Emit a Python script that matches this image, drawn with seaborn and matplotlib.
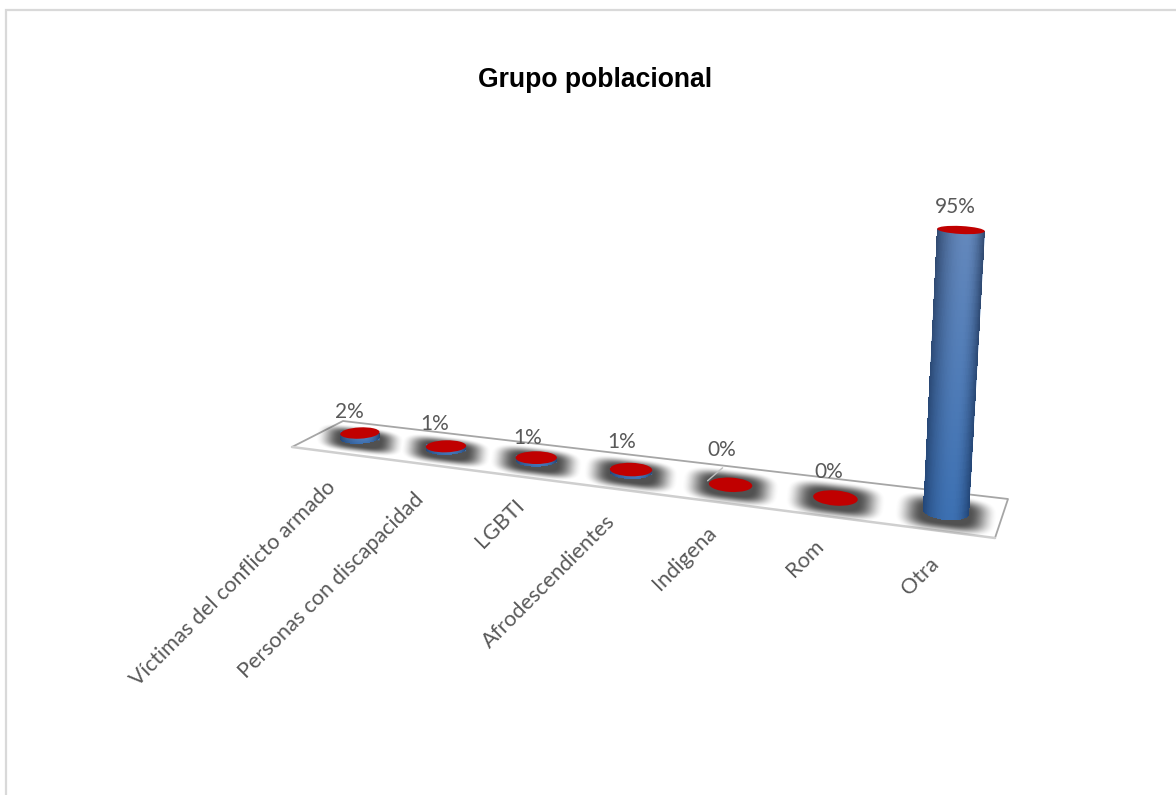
import numpy as np
import matplotlib
matplotlib.use("Agg")
import matplotlib.pyplot as plt
from matplotlib.patches import Ellipse, Polygon
from matplotlib.transforms import Transform
import pandas as pd
import seaborn as sns

categories = ["Víctimas del conflicto armado", "Personas con discapacidad", "LGBTI",
              "Afrodescendientes", "Indigena", "Rom", "Otra"]
values = [2, 1, 1, 1, 0, 0, 95]
value_labels = ["2%", "1%", "1%", "1%", "0%", "0%", "95%"]
title = "Grupo poblacional"

# pixel offsets of value labels and category labels from their bars
label_offsets = [(-10, -21), (-11, -22), (-9, -20), (-9, -28), (-9, -35), (-7, -26), (-6, -23)]
tick_offsets = [(-28, 46), (-25, 47), (-15, 42), (-19, 46), (-17, 45), (-15, 45), (-10, 49)]

BODY_TOP_MID, BODY_TOP_EDGE = np.array([100, 136, 188]), np.array([50, 74, 112])
BODY_LOW_MID, BODY_LOW_EDGE = np.array([60, 112, 178]), np.array([34, 70, 120])
CAP = "#C00000"
TEXT = "#595959"


class Perspective(Transform):
    """Projective map from (category index, percent) to canvas pixels."""
    input_dims = output_dims = 2
    has_inverse = False

    def transform_non_affine(self, pts):
        pts = np.asarray(pts, float)
        i, v = pts[:, 0], pts[:, 1]
        w = -0.02328 * i - 0.00035 * v + 1
        return np.column_stack([(75.64 * i - 0.2004 * v + 360) / w,
                                (0.41 * i - 2.634 * v + 438) / w])


proj = Perspective()


def project(i, v):
    return proj.transform_non_affine(np.array([[i, v]], float))[0]


def half_width(i):
    return 0.232 - 0.0052 * i


def disc(i, v):
    """Centre, half axes and tilt of a cylinder's circular section."""
    centre = project(i, v)
    a = np.linalg.norm(project(i + half_width(i), v) - project(i - half_width(i), v)) / 2
    b = a * (0.29 + 0.01 * i) * (1 - 0.0055 * v)
    angle = (-3 + 1.5 * i) * (1 - v / 190)
    return centre, a, b, angle


sns.set_theme(style="white")
fig = plt.figure(figsize=(11.76, 7.95), dpi=100)
ax = fig.add_axes([0, 0, 1, 1])

frame = pd.DataFrame({"posicion": np.arange(len(categories)), "pct": values})
sns.barplot(data=frame, x="posicion", y="pct", color="#3F71B0", ax=ax, saturation=1,
            width=0.4, native_scale=True, linewidth=0)
bars = list(ax.patches)

# the axes double as a pixel canvas for the projected scene
ax.set_xlim(0, 1176)
ax.set_ylim(795, 0)
ax.set_axis_off()
to_canvas = proj + ax.transData

# outer chart frame
ax.plot([5.5, 5.5, 1176], [795, 10, 10], color="#D9D9D9", lw=1.6, zorder=1, solid_joinstyle="miter")

# floor plate
corners = np.array([[343, 421], [1008, 499], [995, 538], [292, 447]])
ax.add_patch(Polygon(corners, closed=True, fc="white", ec="none", zorder=2))
ax.plot(*corners[[3, 0, 1, 2]].T, color="#A6A6A6", lw=1.3, zorder=3)
ax.plot(*corners[[3, 2]].T, color="#CFCFCF", lw=1.8, zorder=3)

# soft contact shadows beneath each cylinder
gx, gy = np.meshgrid(np.arange(1176) + 0.5, np.arange(795) + 0.5)
shadow = np.zeros_like(gx)
for idx in range(len(categories)):
    (cx, cy), a, b, ang = disc(idx, 0)
    cy += 2
    t = np.radians(7)
    dx = (gx - cx) * np.cos(t) + (gy - cy) * np.sin(t)
    dy = -(gx - cx) * np.sin(t) + (gy - cy) * np.cos(t)
    d = (np.abs(dx / (a * 2.25)) ** 3.5 + np.abs(dy / (14.0 + 1.0 * idx)) ** 3.5) ** (1 / 3.5)
    f = np.clip((1 - d) / 0.55, 0, 1)
    shadow = np.maximum(shadow, f * f * (3 - 2 * f))
rgba = np.zeros(gx.shape + (4,))
rgba[..., :3] = 0.28
rgba[..., 3] = shadow * 0.95
ax.imshow(rgba, extent=(0, 1176, 795, 0), zorder=4, interpolation="bilinear", aspect="auto")
ax.set_xlim(0, 1176)
ax.set_ylim(795, 0)

# cylinders: seaborn rectangles projected, shaded bodies and red caps on top
for idx, (bar, pct) in enumerate(zip(bars, values)):
    hw = half_width(idx)
    bar.set_x(idx - hw)
    bar.set_width(2 * hw)
    bar.set_transform(to_canvas)
    bar.set_clip_on(False)
    bar.set_zorder(5)
    height = bar.get_height()

    (c0, a0, b0, ang0) = disc(idx, 0)
    (c1, a1, b1, ang1) = disc(idx, height)
    if height > 0:
        th = np.linspace(np.pi, 0, 91)
        r0, r1 = np.radians(ang0), np.radians(ang1)
        lx, ly = a0 * np.cos(th), b0 * np.sin(th)
        low_x = c0[0] + lx * np.cos(r0) - ly * np.sin(r0)
        low_y = c0[1] + lx * np.sin(r0) + ly * np.cos(r0)
        ux = a1 * np.cos(th)
        top_x = c1[0] + ux * np.cos(r1)
        top_y = c1[1] + ux * np.sin(r1)
        s = np.linspace(0, 1, 41)[:, None]
        X = low_x * (1 - s) + top_x * s
        Y = low_y * (1 - s) + top_y * s
        um = (np.cos(th[:-1]) + np.cos(th[1:])) / 2
        lit = 0.25
        spread = np.where(um < lit, (lit - um) / (1 + lit), (um - lit) / (1 - lit))
        glow = np.clip(1 - spread ** 2.0, 0, 1)[None, :, None]
        sm = ((s[:-1] + s[1:]) / 2)[:, :, None]
        mid = BODY_LOW_MID * (1 - sm) + BODY_TOP_MID * sm
        edge = BODY_LOW_EDGE * (1 - sm) + BODY_TOP_EDGE * sm
        ax.pcolormesh(X, Y, (edge + (mid - edge) * glow) / 255, shading="flat",
                      antialiased=False, edgecolors="none", zorder=6, rasterized=True)
    ax.add_patch(Ellipse(c1, 2 * a1, 2 * b1, angle=ang1, fc=CAP, ec="none", zorder=7))

    lx, ly = label_offsets[idx]
    top = project(idx, height)
    ax.text(top[0] + lx, top[1] + ly, value_labels[idx], ha="center", va="center",
            color=TEXT, fontsize=15, family="Lato", zorder=9)
    ox, oy = tick_offsets[idx]
    base = project(idx, 0)
    ax.text(base[0] + ox, base[1] + oy, categories[idx], rotation=45, rotation_mode="anchor",
            ha="right", va="center", color=TEXT, fontsize=15.6, family="Lato", zorder=9)

# leader line from the Indigena label to its bar
anchor = project(4, 0)
ax.plot([anchor[0] - 23, anchor[0] - 8], [anchor[1] - 4, anchor[1] - 17], color="#BFBFBF", lw=1, zorder=8)

ax.text(595, 77, title, ha="center", va="center_baseline", fontsize=19.1, fontweight="bold",
        family="Liberation Sans", color="black", zorder=9)

fig.savefig("out.png", dpi=100, facecolor="white")
